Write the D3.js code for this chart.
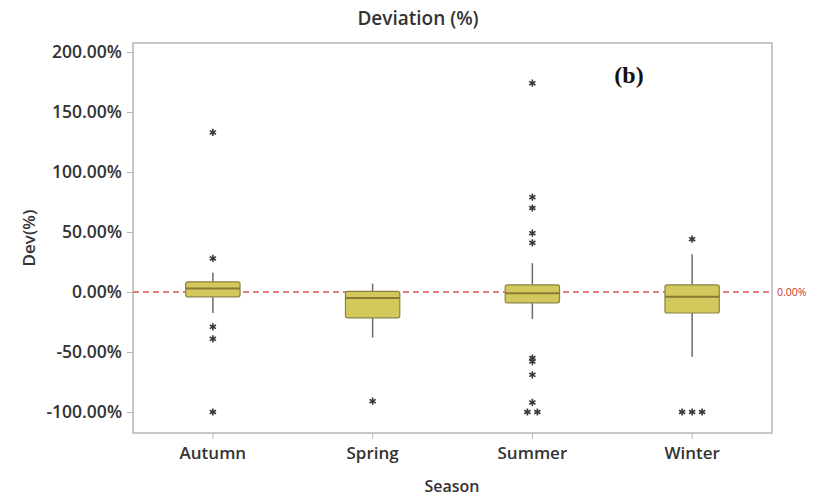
<!DOCTYPE html>
<html>
<head>
<meta charset="utf-8">
<script src="https://cdn.jsdelivr.net/npm/d3@7"></script>
<style>
  body { margin: 0; background: #fff; }
  text { font-family: "Open Sans", "Noto Sans", sans-serif; }
</style>
</head>
<body>
<div id="chart"></div>
<script>
var width = 824;
var height = 497;

// box plot summary per season (values in %)
var seasons = ["Autumn", "Spring", "Summer", "Winter"];
var q1 = [-4, -21.5, -9, -17.5];
var median = [3, -5, -1, -4];
var q3 = [8.5, 0.5, 6, 6];
var whiskerLow = [-17.5, -38, -22.5, -54];
var whiskerHigh = [16, 7, 24, 31.5];
var outliers = [
    [133, 28, -29, -39, -100],
    [-91],
    [174, 79, 70, 49, 41, -55, -58, -69, -92, -100, -100],
    [44, -100, -100, -100]
];
var yTicks = [-100, -50, 0, 50, 100, 150, 200];
var refValue = 0;

var svg = d3.select("#chart")
    .append("svg")
    .attr("width", width)
    .attr("height", height);

svg.append("rect")
    .attr("width", width)
    .attr("height", height)
    .attr("fill", "#fff");

var x = d3.scaleBand().domain(seasons).range([133, 772]).padding(0);
var y = d3.scaleLinear().domain([-117.5, 207.5]).range([433, 43]);
var boxW = x.bandwidth() * 0.34;

// frame
svg.append("rect")
    .attr("x", 133)
    .attr("y", 43)
    .attr("width", 639)
    .attr("height", 390)
    .attr("fill", "none")
    .style("stroke", "#b5b5b5")
    .style("stroke-width", 1.5);

// y axis
var yAxis = svg.append("g")
    .attr("transform", "translate(133,0)")
    .call(d3.axisLeft(y).tickValues(yTicks).tickSize(6).tickPadding(5)
        .tickFormat(function(d) { return d.toFixed(2) + "%"; }));
yAxis.select(".domain").remove();
yAxis.selectAll("line").style("stroke", "#b5b5b5");
yAxis.selectAll("text")
    .style("font-size", "17.5px")
    .style("font-weight", "600")
    .style("fill", "#333");

// x axis
var xAxis = svg.append("g")
    .attr("transform", "translate(0,433)")
    .call(d3.axisBottom(x).tickSize(6).tickPadding(8));
xAxis.select(".domain").remove();
xAxis.selectAll("line").style("stroke", "#b5b5b5");
xAxis.selectAll("text")
    .style("font-size", "17px")
    .style("font-weight", "600")
    .style("fill", "#333");

// reference line
svg.append("line")
    .attr("x1", 133)
    .attr("x2", 772)
    .attr("y1", y(refValue))
    .attr("y2", y(refValue))
    .style("stroke", "#d9534f")
    .style("stroke-width", 1.5)
    .style("stroke-dasharray", "6,4");

svg.append("text")
    .attr("x", 777)
    .attr("y", y(refValue))
    .attr("dy", "0.35em")
    .text(refValue.toFixed(2) + "%")
    .style("font-size", "10.5px")
    .style("fill", "#c0392b");

// boxes
var boxes = svg.selectAll(".box")
    .data(seasons)
    .enter().append("g")
    .attr("class", "box")
    .attr("transform", function(d) {
        return "translate(" + (x(d) + x.bandwidth() / 2) + ",0)";
    });

boxes.append("line")
    .attr("y1", function(d, i) { return y(whiskerHigh[i]); })
    .attr("y2", function(d, i) { return y(q3[i]); })
    .style("stroke", "#6b6b6b")
    .style("stroke-width", 1.5);

boxes.append("line")
    .attr("y1", function(d, i) { return y(q1[i]); })
    .attr("y2", function(d, i) { return y(whiskerLow[i]); })
    .style("stroke", "#6b6b6b")
    .style("stroke-width", 1.5);

boxes.append("rect")
    .attr("x", -boxW / 2)
    .attr("y", function(d, i) { return y(q3[i]); })
    .attr("width", boxW)
    .attr("height", function(d, i) { return y(q1[i]) - y(q3[i]); })
    .attr("rx", 2)
    .attr("fill", "#d3c85b")
    .style("stroke", "#8a8345")
    .style("stroke-width", 1.2);

boxes.append("line")
    .attr("x1", -boxW / 2)
    .attr("x2", boxW / 2)
    .attr("y1", function(d, i) { return y(median[i]); })
    .attr("y2", function(d, i) { return y(median[i]); })
    .style("stroke", "#857a36")
    .style("stroke-width", 2);

// outliers, equal values placed side by side
var star = d3.symbol().type(d3.symbolAsterisk).size(36);
boxes.each(function(d, i) {
    var g = d3.select(this);
    var counts = {};
    var pts = outliers[i].map(function(v) {
        counts[v] = (counts[v] || 0) + 1;
        return { v: v, k: counts[v] - 1 };
    });
    pts.forEach(function(p) {
        var n = counts[p.v];
        var dx = (p.k - (n - 1) / 2) * 10;
        g.append("path")
            .attr("d", star)
            .attr("transform", "translate(" + dx + "," + y(p.v) + ")")
            .attr("fill", "none")
            .style("stroke", "#3a3a3a")
            .style("stroke-width", 1.6);
    });
});

// titles
svg.append("text")
    .attr("x", 418)
    .attr("y", 25)
    .text("Deviation (%)")
    .style("text-anchor", "middle")
    .style("font-size", "19px")
    .style("font-weight", "600")
    .style("fill", "#333");

svg.append("text")
    .attr("x", 452)
    .attr("y", 492)
    .text("Season")
    .style("text-anchor", "middle")
    .style("font-size", "16px")
    .style("font-weight", "600")
    .style("fill", "#333");

svg.append("text")
    .attr("transform", "translate(35,238) rotate(-90)")
    .text("Dev(%)")
    .style("text-anchor", "middle")
    .style("font-size", "17px")
    .style("font-weight", "600")
    .style("fill", "#333");

svg.append("text")
    .attr("x", 629)
    .attr("y", 83)
    .text("(b)")
    .style("text-anchor", "middle")
    .style("font-family", "'Liberation Serif', 'DejaVu Serif', serif")
    .style("font-size", "24px")
    .style("font-weight", "bold")
    .style("fill", "#111");
</script>
</body>
</html>
